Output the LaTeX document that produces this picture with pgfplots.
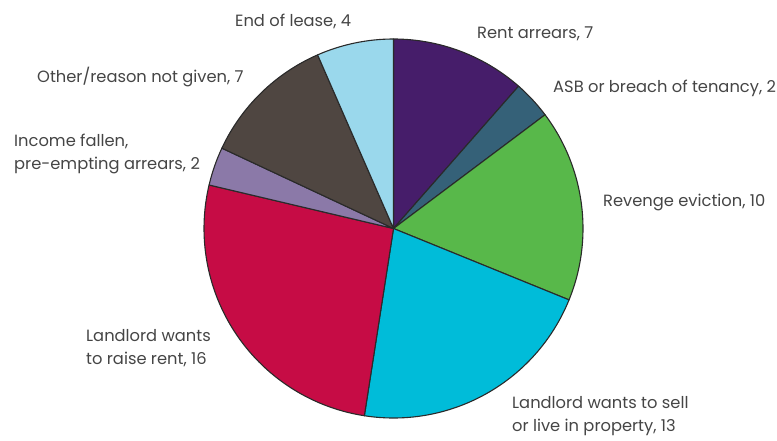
\documentclass[border=0pt]{standalone}
\usepackage{pgfplots}
\pgfplotsset{compat=1.18}
\usepackage{pgfplotstable}
\usepackage{fontspec}
\setmainfont{Poppins}
\definecolor{c0}{HTML}{461D6A}
\definecolor{c1}{HTML}{356178}
\definecolor{c2}{HTML}{58B84A}
\definecolor{c3}{HTML}{00BCD9}
\definecolor{c4}{HTML}{C60C45}
\definecolor{c5}{HTML}{8B79A8}
\definecolor{c6}{HTML}{4F4641}
\definecolor{c7}{HTML}{9AD8EC}
\definecolor{edge}{HTML}{2A2A2A}
\definecolor{txt}{HTML}{454545}
% reasons, clockwise from the top
\pgfplotstableread{
idx value
0 7
1 2
2 10
3 13
4 16
5 2
6 7
7 4
}\piedata
\gdef\pietot{0}
\foreach \i in {0,...,7}{%
  \pgfplotstablegetelem{\i}{value}\of\piedata
  \pgfmathsetmacro\tmpT{\pietot+\pgfplotsretval}%
  \xdef\pietot{\tmpT}}
\gdef\piecum{0}
\foreach \i in {0,...,7}{%
  \pgfplotstablegetelem{\i}{value}\of\piedata
  \pgfmathsetmacro\tmpS{90-\piecum/\pietot*360}%
  \pgfmathsetmacro\tmpC{\piecum+\pgfplotsretval}%
  \xdef\piecum{\tmpC}%
  \pgfmathsetmacro\tmpE{90-\piecum/\pietot*360}%
  \expandafter\xdef\csname sa\i\endcsname{\tmpS}%
  \expandafter\xdef\csname ea\i\endcsname{\tmpE}}
\begin{document}
\begin{tikzpicture}
\begin{axis}[
  x=1pt, y=1pt, xmin=0, xmax=777, ymin=0, ymax=440,
  scale only axis, hide axis, clip=false,
  at={(0,0)}, anchor=south west,
]
\pgfplotsinvokeforeach{0,...,7}{
  \filldraw[fill=c#1, draw=edge, line width=1.1pt, line join=round]
    (axis cs:393.5,211.5) -- ++(\csname sa#1\endcsname:189.5pt)
    arc[start angle=\csname sa#1\endcsname, end angle=\csname ea#1\endcsname, radius=189.5pt] -- cycle;
}
\begin{scope}[every node/.style={text=txt, font=\fontsize{16.3}{23}\selectfont, inner sep=0pt, align=left}]
\node[anchor=west] at (axis cs:235,419) {End of lease, 4};
\node[anchor=west] at (axis cs:477,406) {Rent arrears, 7};
\node[anchor=west] at (axis cs:553,352) {ASB or breach of tenancy, 2};
\node[anchor=west] at (axis cs:603,238) {Revenge eviction, 10};
\node[anchor=west] at (axis cs:512,23.5) {Landlord wants to sell\\or live in property, 13};
\node[anchor=west] at (axis cs:86,91.5) {Landlord wants\\to raise rent, 16};
\node[anchor=west] at (axis cs:14,286) {Income fallen,\\pre-empting arrears, 2};
\node[anchor=west] at (axis cs:37,363) {Other/reason not given, 7};
\end{scope}
\end{axis}
\pgfresetboundingbox
\path (0,0) rectangle (777pt,440pt);
\end{tikzpicture}
\end{document}
